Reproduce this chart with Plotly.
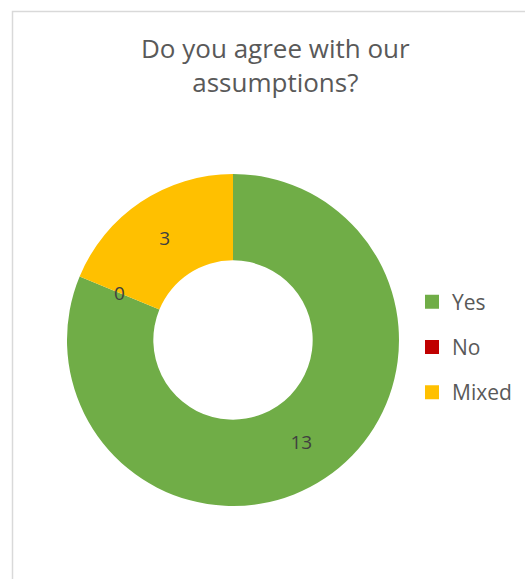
import math
import plotly.graph_objects as go

categories = ["Yes", "No", "Mixed"]
values = [13, 0, 3]
colors = ["#70AD47", "#C00000", "#FFC000"]
title_text = "Do you agree with our<br>assumptions?"

W, H = 525, 579
FONT = "Open Sans"

# donut domain (pixels -> paper)
cx_px, cy_px, r_px = 233, 340, 166
dom_x = [(cx_px - r_px) / W, (cx_px + r_px) / W]
dom_y = [(H - cy_px - r_px) / H, (H - cy_px + r_px) / H]
hole = 0.48

fig = go.Figure()
fig.add_trace(go.Pie(
    labels=categories, values=values,
    marker=dict(colors=colors, line=dict(width=0)),
    hole=hole, sort=False, direction="clockwise", rotation=0,
    textinfo="value", textposition="inside", insidetextorientation="horizontal",
    textfont=dict(family=FONT, size=19, color="#404040"),
    domain=dict(x=dom_x, y=dom_y),
    showlegend=False, hoverinfo="label+value",
))

# labels for zero-valued slices (plotly hides them), placed mid-ring from data
total = sum(values)
cum = 0
mid_r = r_px * (1 + hole) / 2
for cat, v in zip(categories, values):
    if v == 0:
        ang = 2 * math.pi * (cum + v / 2) / total
        px = cx_px + mid_r * math.sin(ang)
        py = cy_px - mid_r * math.cos(ang)
        fig.add_annotation(x=px / W, y=1 - py / H, xref="paper", yref="paper",
                           xanchor="center", yanchor="middle",
                           text=str(v), showarrow=False,
                           font=dict(family=FONT, size=19, color="#404040"))
    cum += v

# legend entries
for i, (cat, col) in enumerate(zip(categories, colors)):
    fig.add_trace(go.Scatter(
        x=[None], y=[None], mode="markers", name=cat, legendgroup=cat,
        marker=dict(symbol="square", size=14, color=col),
    ))

fig.add_annotation(x=275 / W, y=1 - 65 / H, xref="paper", yref="paper",
                   text=title_text, showarrow=False, xanchor="center", yanchor="middle",
                   font=dict(family=FONT, size=26, color="#595959"))

fig.add_shape(type="rect", xref="paper", yref="paper",
              x0=12.5 / W, x1=1.05, y0=-0.05, y1=1 - 11.5 / H,
              line=dict(color="#D9D9D9", width=1.5), fillcolor="rgba(0,0,0,0)")

fig.update_layout(
    width=W, height=H,
    margin=dict(l=0, r=0, t=0, b=0),
    paper_bgcolor="white", plot_bgcolor="white",
    xaxis=dict(visible=False), yaxis=dict(visible=False),
    legend=dict(x=412 / W, y=1 - 347 / H, xanchor="left", yanchor="middle",
                font=dict(family=FONT, size=21, color="#595959"),
                tracegroupgap=15, bgcolor="rgba(0,0,0,0)"),
)

fig.write_html("out.html")
